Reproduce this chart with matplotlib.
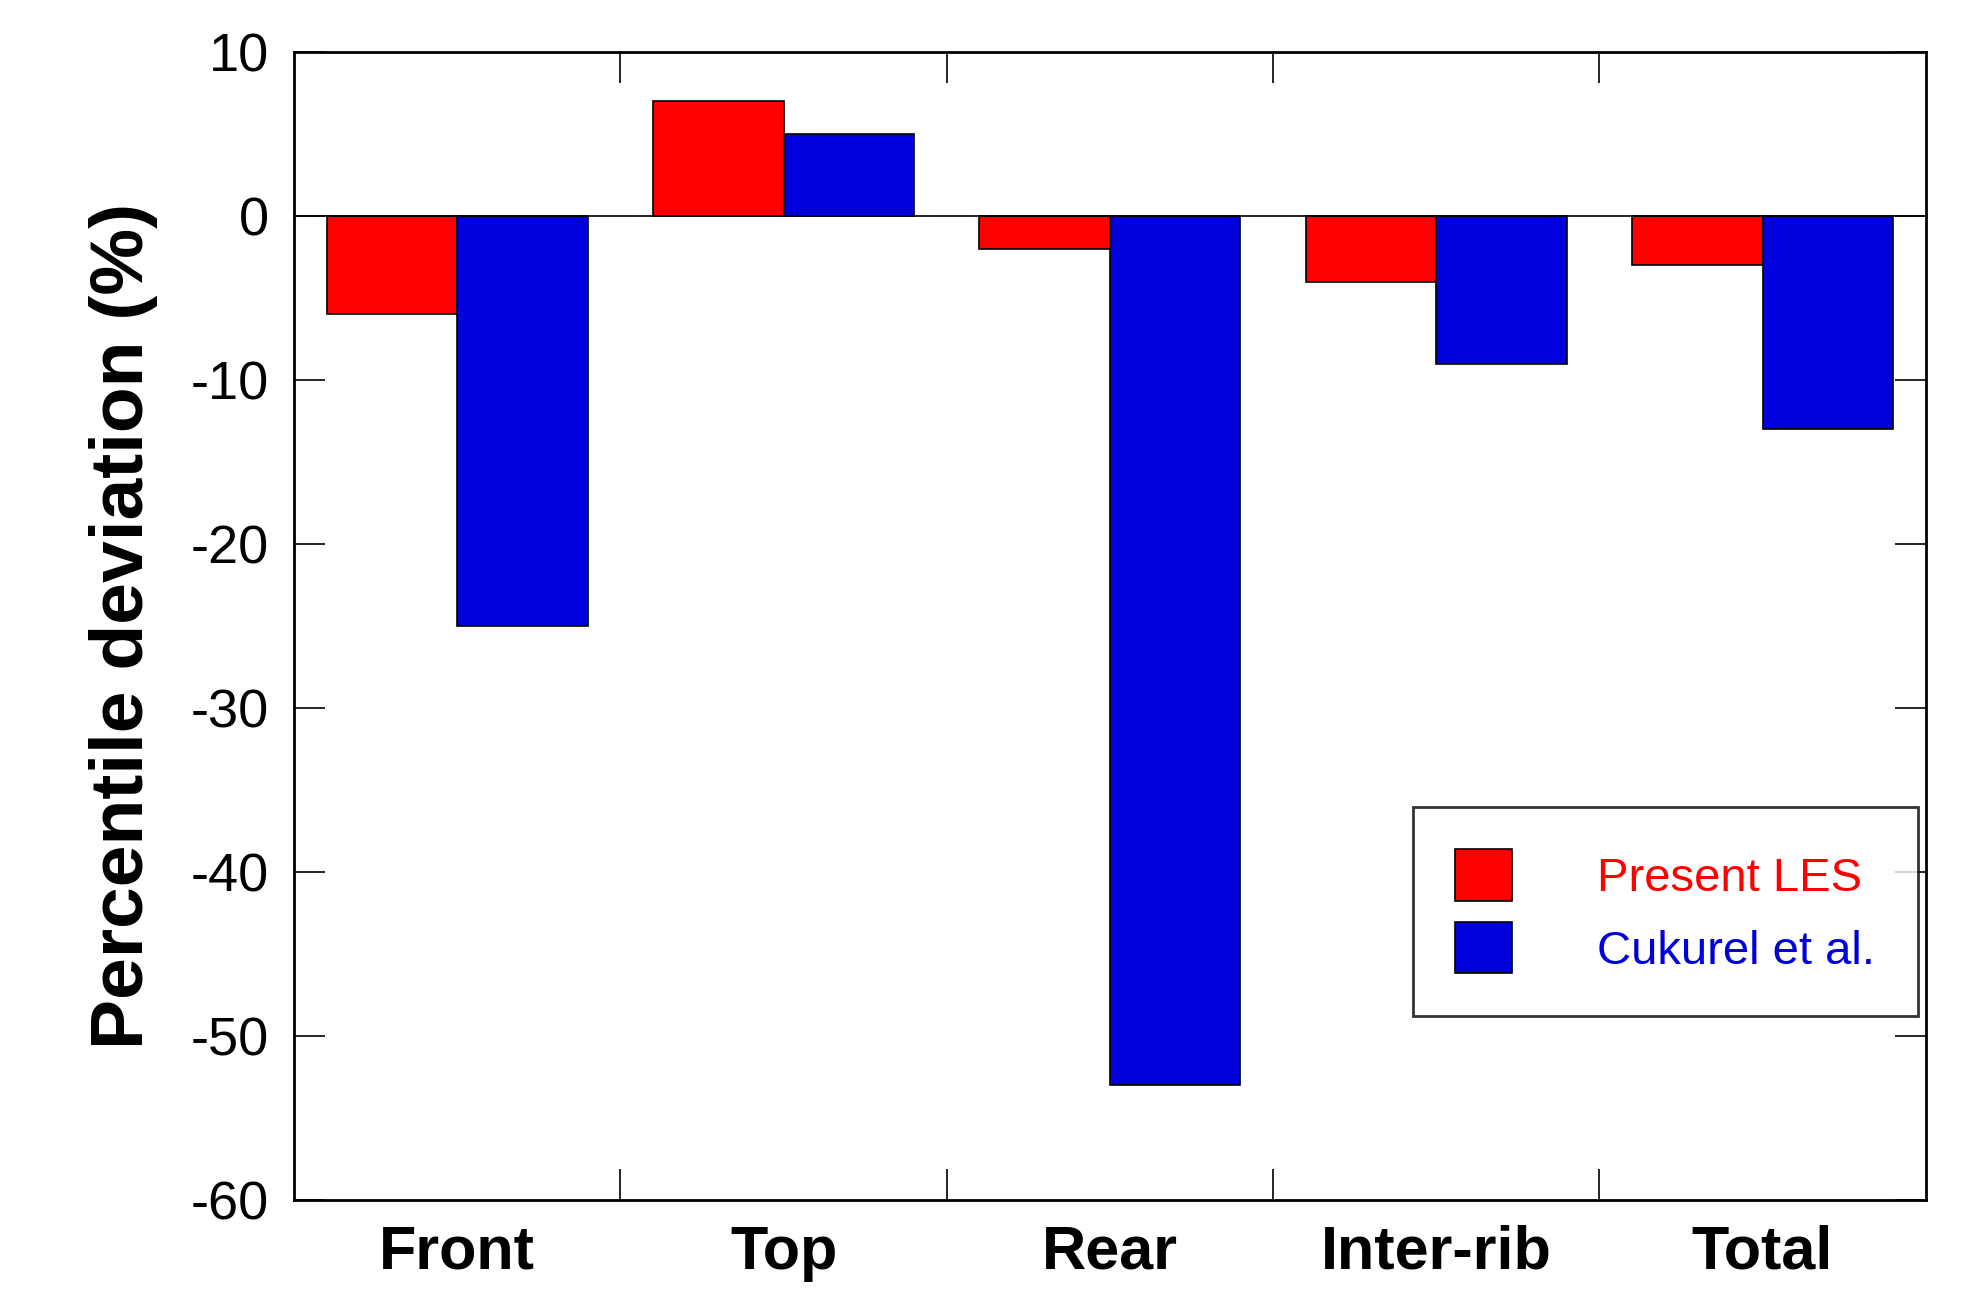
import matplotlib
matplotlib.use('Agg')
import matplotlib.pyplot as plt
import numpy as np

plt.rcParams['font.family'] = ['Liberation Sans', 'DejaVu Sans']
plt.rcParams['axes.unicode_minus'] = False

categories = ['Front', 'Top', 'Rear', 'Inter-rib', 'Total']
present_les = [-6, 7, -2, -4, -3]
cukurel = [-25, 5, -53, -9, -13]

fig = plt.figure(figsize=(19.61, 13.04), dpi=100)
ax = fig.add_axes([0.15, 0.08, 0.832, 0.88])

x = np.arange(len(categories)) + 0.5
w = 0.4
ax.bar(x - w / 2, present_les, w, color='#ff0000', edgecolor='black', linewidth=1.2, label='Present LES')
ax.bar(x + w / 2, cukurel, w, color='#0000dd', edgecolor='black', linewidth=1.2, label='Cukurel et al.')
ax.axhline(0, color='black', linewidth=1.2)

ax.set_xlim(0, 5)
ax.set_ylim(-60, 10)
ax.set_yticks(np.arange(-60, 11, 10))
ax.set_xticks(x)
ax.set_xticklabels(categories, fontsize=44, fontweight='bold')
ax.set_xticks(np.arange(1, 5), minor=True)
ax.tick_params(axis='x', which='major', length=0, pad=18)
ax.tick_params(axis='x', which='minor', direction='in', length=22, top=True, width=1.2)
ax.tick_params(axis='y', direction='in', length=22, right=True, width=1.2, labelsize=39, pad=18)
for s in ax.spines.values():
    s.set_linewidth(2)

ax.set_ylabel('Percentile deviation (%)', fontsize=54, fontweight='bold', labelpad=24)

leg = ax.legend(loc='lower right', bbox_to_anchor=(0.995, 0.16), fontsize=34, frameon=True,
                fancybox=False, edgecolor='black', handlelength=1.2, handleheight=1.3,
                handletextpad=1.8, borderpad=0.9, borderaxespad=0, labelspacing=0.45)
leg.get_frame().set_linewidth(2)
leg._legend_box.align = 'left'
leg.get_texts()[0].set_color('#ff0000')
leg.get_texts()[1].set_color('#0000dd')

plt.savefig('out.png')
